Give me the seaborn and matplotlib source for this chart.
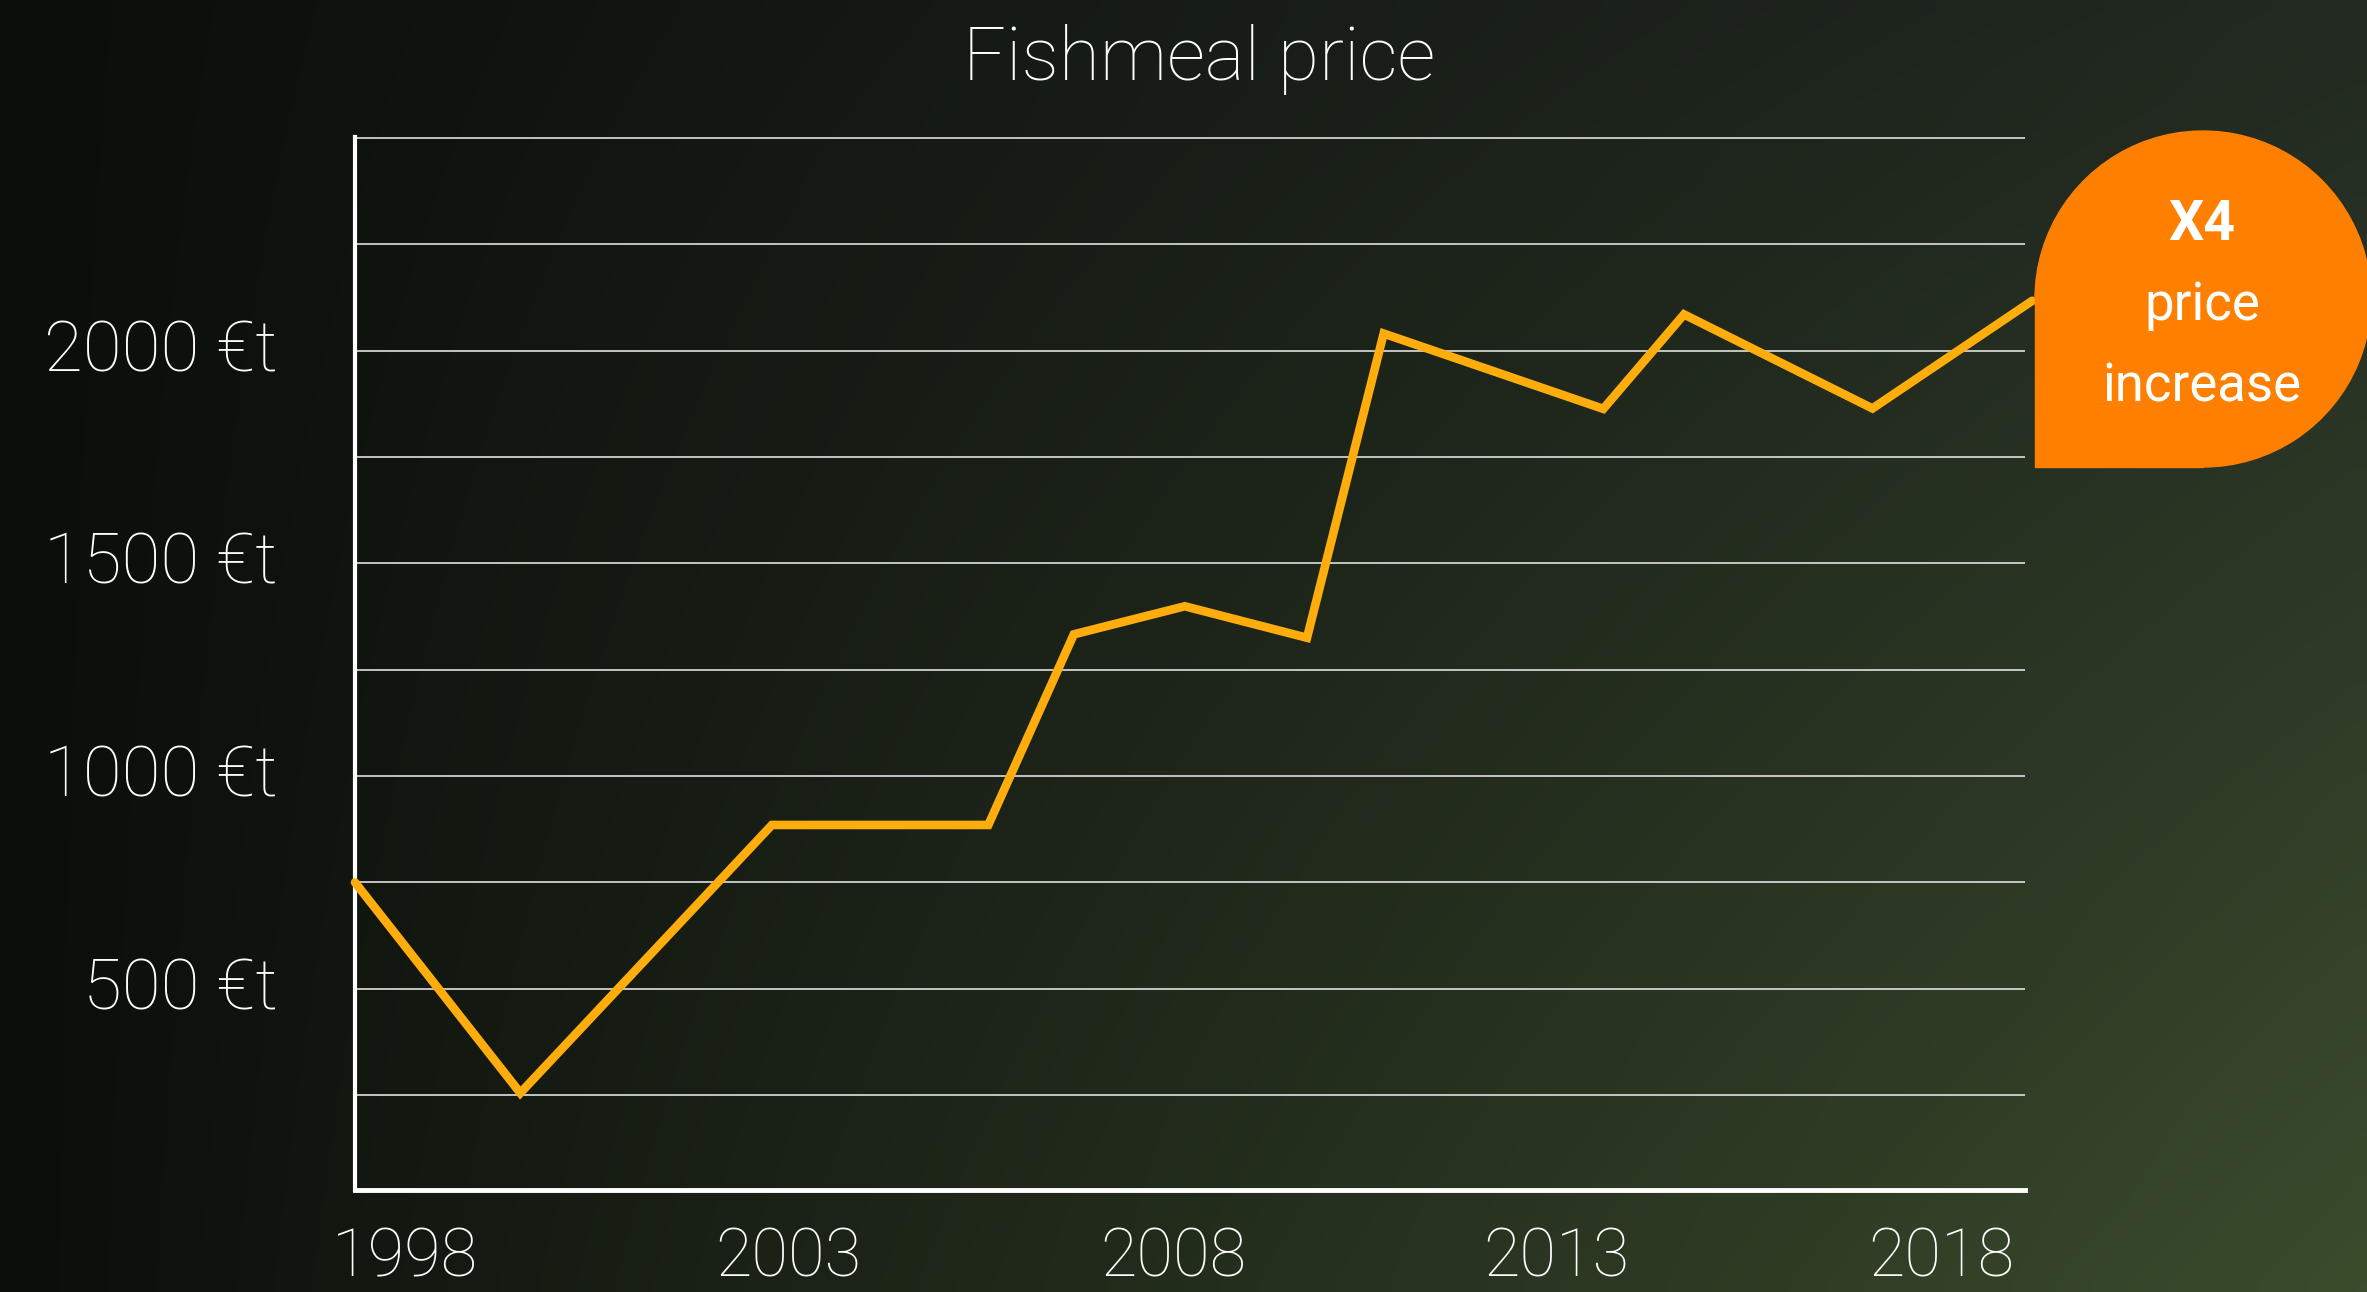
import numpy as np
import matplotlib
matplotlib.use('Agg')
import matplotlib.pyplot as plt
import matplotlib.ticker as mticker
import matplotlib.transforms as mtrans
import seaborn as sns
from matplotlib.patches import Wedge, Rectangle

# values
years = [1998.0, 2000.07, 2003.22, 2005.93, 2007.0, 2008.39, 2009.92, 2010.88, 2013.63, 2014.64, 2017.0, 2019.0]
price = [750, 255, 885, 885, 1333, 1399, 1325, 2040, 1863, 2085, 1864, 2117]
x_labels = ['1998', '2003', '2008', '2013', '2018']
x_label_pos = [1998.62, 2003.42, 2008.24, 2013.04, 2017.86]
y_labeled = [500, 1000, 1500, 2000]

sns.set_theme(style='dark')
plt.rcParams['font.family'] = ['Roboto', 'DejaVu Sans']

W, H = 2367, 1292
fig = plt.figure(figsize=(W / 100, H / 100), dpi=100)

# background gradient: dark on the left, greener to the bottom right
bg = fig.add_axes([0, 0, 1, 1])
tl, tr = np.array([11, 14, 11]), np.array([34, 42, 33])
bl, br = np.array([11, 14, 11]), np.array([59, 76, 45])
u = np.linspace(0, 1, 120)[None, :, None]
v = np.linspace(0, 1, 70)[:, None, None]
grad = (tl * (1 - u) * (1 - v) + tr * u * (1 - v) + bl * (1 - u) * v + br * u * v) / 255
bg.imshow(grad, aspect='auto', interpolation='bilinear', extent=[0, W, 0, H])
bg.set_xlim(0, W)
bg.set_ylim(0, H)
bg.axis('off')

ax = fig.add_axes([355 / W, 1 - 1190 / H, (2025 - 355) / W, (1190 - 137) / H])
ax.set_facecolor('none')

sns.lineplot(x=years, y=price, ax=ax, color='#FFAD0D', linewidth=6.2,
             solid_joinstyle='miter', clip_on=False, zorder=5)

ax.set_xlim(1998, 2018.91)
ax.set_ylim(27, 2502)
ax.set_yticks(np.arange(250, 2501, 250))
ax.yaxis.set_major_formatter(mticker.FuncFormatter(
    lambda v, _: f'{int(v)} €t' if int(v) in y_labeled else ''))
ax.set_xticks(x_label_pos)
ax.set_xticklabels(x_labels)

ax.grid(axis='y', color='#e0e0e0', linewidth=1.2)
ax.grid(axis='x', visible=False)
ax.tick_params(axis='y', colors='white', length=8.6, width=1.2, pad=47,
               labelsize=51, labelcolor='white')
ax.tick_params(axis='x', length=0, pad=26, labelsize=48, labelcolor='white')
lift = mtrans.ScaledTranslation(0, 6 / 100, fig.dpi_scale_trans)
for lab in ax.get_yticklabels():
    lab.set_fontweight('light')
    lab.set_transform(lab.get_transform() + lift)
for lab in ax.get_xticklabels():
    lab.set_fontweight('light')

for side in ['top', 'right']:
    ax.spines[side].set_visible(False)
ax.spines['left'].set_color('white')
ax.spines['left'].set_linewidth(3)
ax.spines['bottom'].set_color('white')
ax.spines['bottom'].set_linewidth(3.5)
ax.set_xlabel('')
ax.set_ylabel('')

fig.text(1199 / W, 1 - 80 / H, 'Fishmeal price', color='white', fontsize=54,
         fontweight='light', ha='center', va='baseline')

# orange badge
cx, cy, r = 2203, H - 299, 168
badge = fig.add_axes([0, 0, 1, 1])
badge.set_xlim(0, W)
badge.set_ylim(0, H)
badge.axis('off')
badge.add_patch(Wedge((cx, cy), r, -90, 180, color='#FF7F00', clip_on=False))
badge.add_patch(Rectangle((cx - r, cy - r), r, r, color='#FF7F00', clip_on=False))
badge.text(2202, H - 240, 'X4', color='white', fontsize=40, fontweight='bold',
           ha='center', va='baseline')
badge.text(2202, H - 320, 'price', color='white', fontsize=38, ha='center', va='baseline')
badge.text(2202, H - 402, 'increase', color='white', fontsize=38, ha='center', va='baseline')

fig.savefig('out.png', dpi=100)
